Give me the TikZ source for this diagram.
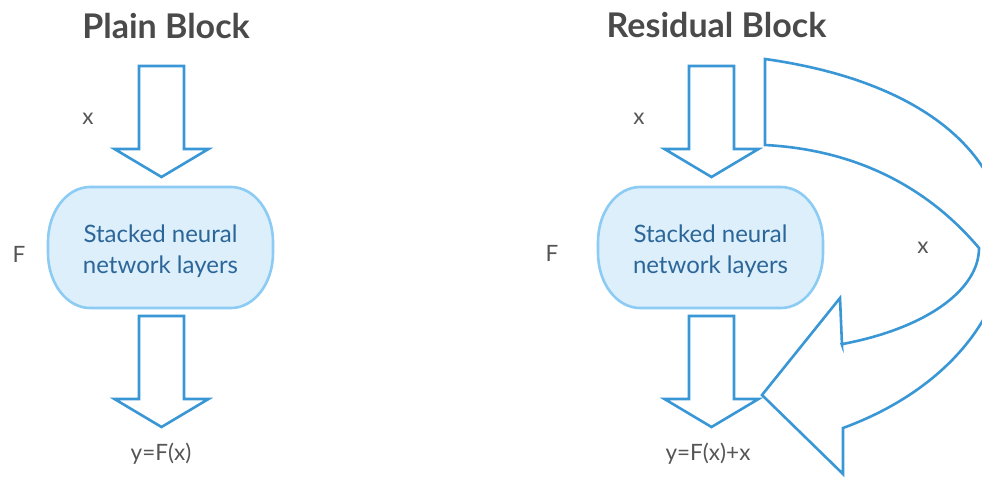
\documentclass[tikz,border=0pt]{standalone}
\usepackage{fontspec}
\setmainfont{Lato}
\definecolor{arrblue}{HTML}{3A97D6}
\definecolor{boxline}{HTML}{8CCBF3}
\definecolor{boxfill}{HTML}{DCEFFB}
\definecolor{boxtext}{HTML}{2C6699}
\definecolor{labgray}{HTML}{555555}
\definecolor{titlegray}{HTML}{4A4A4A}
\newcommand\myblockarrow[4]{%
  \draw[arr] (#1-22.5,#2) -- (#1+22.5,#2) -- (#1+22.5,#3) -- (#1+47,#3) -- (#1,#4) -- (#1-47,#3) -- (#1-22.5,#3) -- cycle;}
\newcommand\mystackbox[1]{%
  \path[boxst] (#1+42,187) -- (#1+183,187)
    arc[start angle=-90,end angle=0,x radius=42,y radius=55] -- (#1+225,253)
    arc[start angle=0,end angle=90,x radius=42,y radius=55] -- (#1+42,308)
    arc[start angle=90,end angle=180,x radius=42,y radius=55] -- (#1,242)
    arc[start angle=180,end angle=270,x radius=42,y radius=55] -- cycle;}
\begin{document}
\begin{tikzpicture}[x=1pt,y=1pt,yscale=-1,
  arr/.style={draw=arrblue,line width=2.6pt,fill=white,line join=miter},
  boxst/.style={draw=boxline,line width=2.6pt,fill=boxfill},
  title/.style={text=titlegray,font=\fontsize{34}{39}\bfseries\selectfont,anchor=base,inner sep=0pt},
  lab/.style={text=labgray,font=\fontsize{22.5}{26}\selectfont,anchor=base,inner sep=0pt},
  boxtxt/.style={text=boxtext,font=\fontsize{24}{28}\selectfont,anchor=base,inner sep=0pt}]
\useasboundingbox[fill=white] (0,0) rectangle (982,477);
% Plain block
\node[title] (t1) at (166,38) {Plain Block};
\myblockarrow{161.5}{66}{149}{177}
\mystackbox{48}
\node[boxtxt] (s1) at (160.5,242) {Stacked neural};
\node[boxtxt] (n1) at (160.5,273) {network layers};
\myblockarrow{161.5}{316}{399}{427}
\node[lab] (x1) at (88,124) {x};
\node[lab] (f1) at (19,262) {F};
\node[lab] (y1) at (161,460) {y=F(x)};
% Residual block
\node[title] (t2) at (716.5,37) {Residual Block};
\draw[arr] (765,59) .. controls (1085,104) and (1059,349) .. (843,428)
  -- (843,474) -- (762,395) -- (840,298) -- (842,345)
  -- plot[domain=69:0,samples=50] ({765+214*cos(\x)},{248+103*sin(\x)})
  .. controls (930,190) and (860,150) .. (765,145) -- cycle;
\myblockarrow{711.5}{66}{149}{177}
\mystackbox{598}
\node[boxtxt] (s2) at (710.5,242) {Stacked neural};
\node[boxtxt] (n2) at (710.5,273) {network layers};
\myblockarrow{711.5}{316}{399}{427}
\node[lab] (x2) at (639,124) {x};
\node[lab] (f2) at (552,261) {F};
\node[lab] (x3) at (923,253) {x};
\node[lab] (y2) at (708,460) {y=F(x)+x};
\end{tikzpicture}
\end{document}
